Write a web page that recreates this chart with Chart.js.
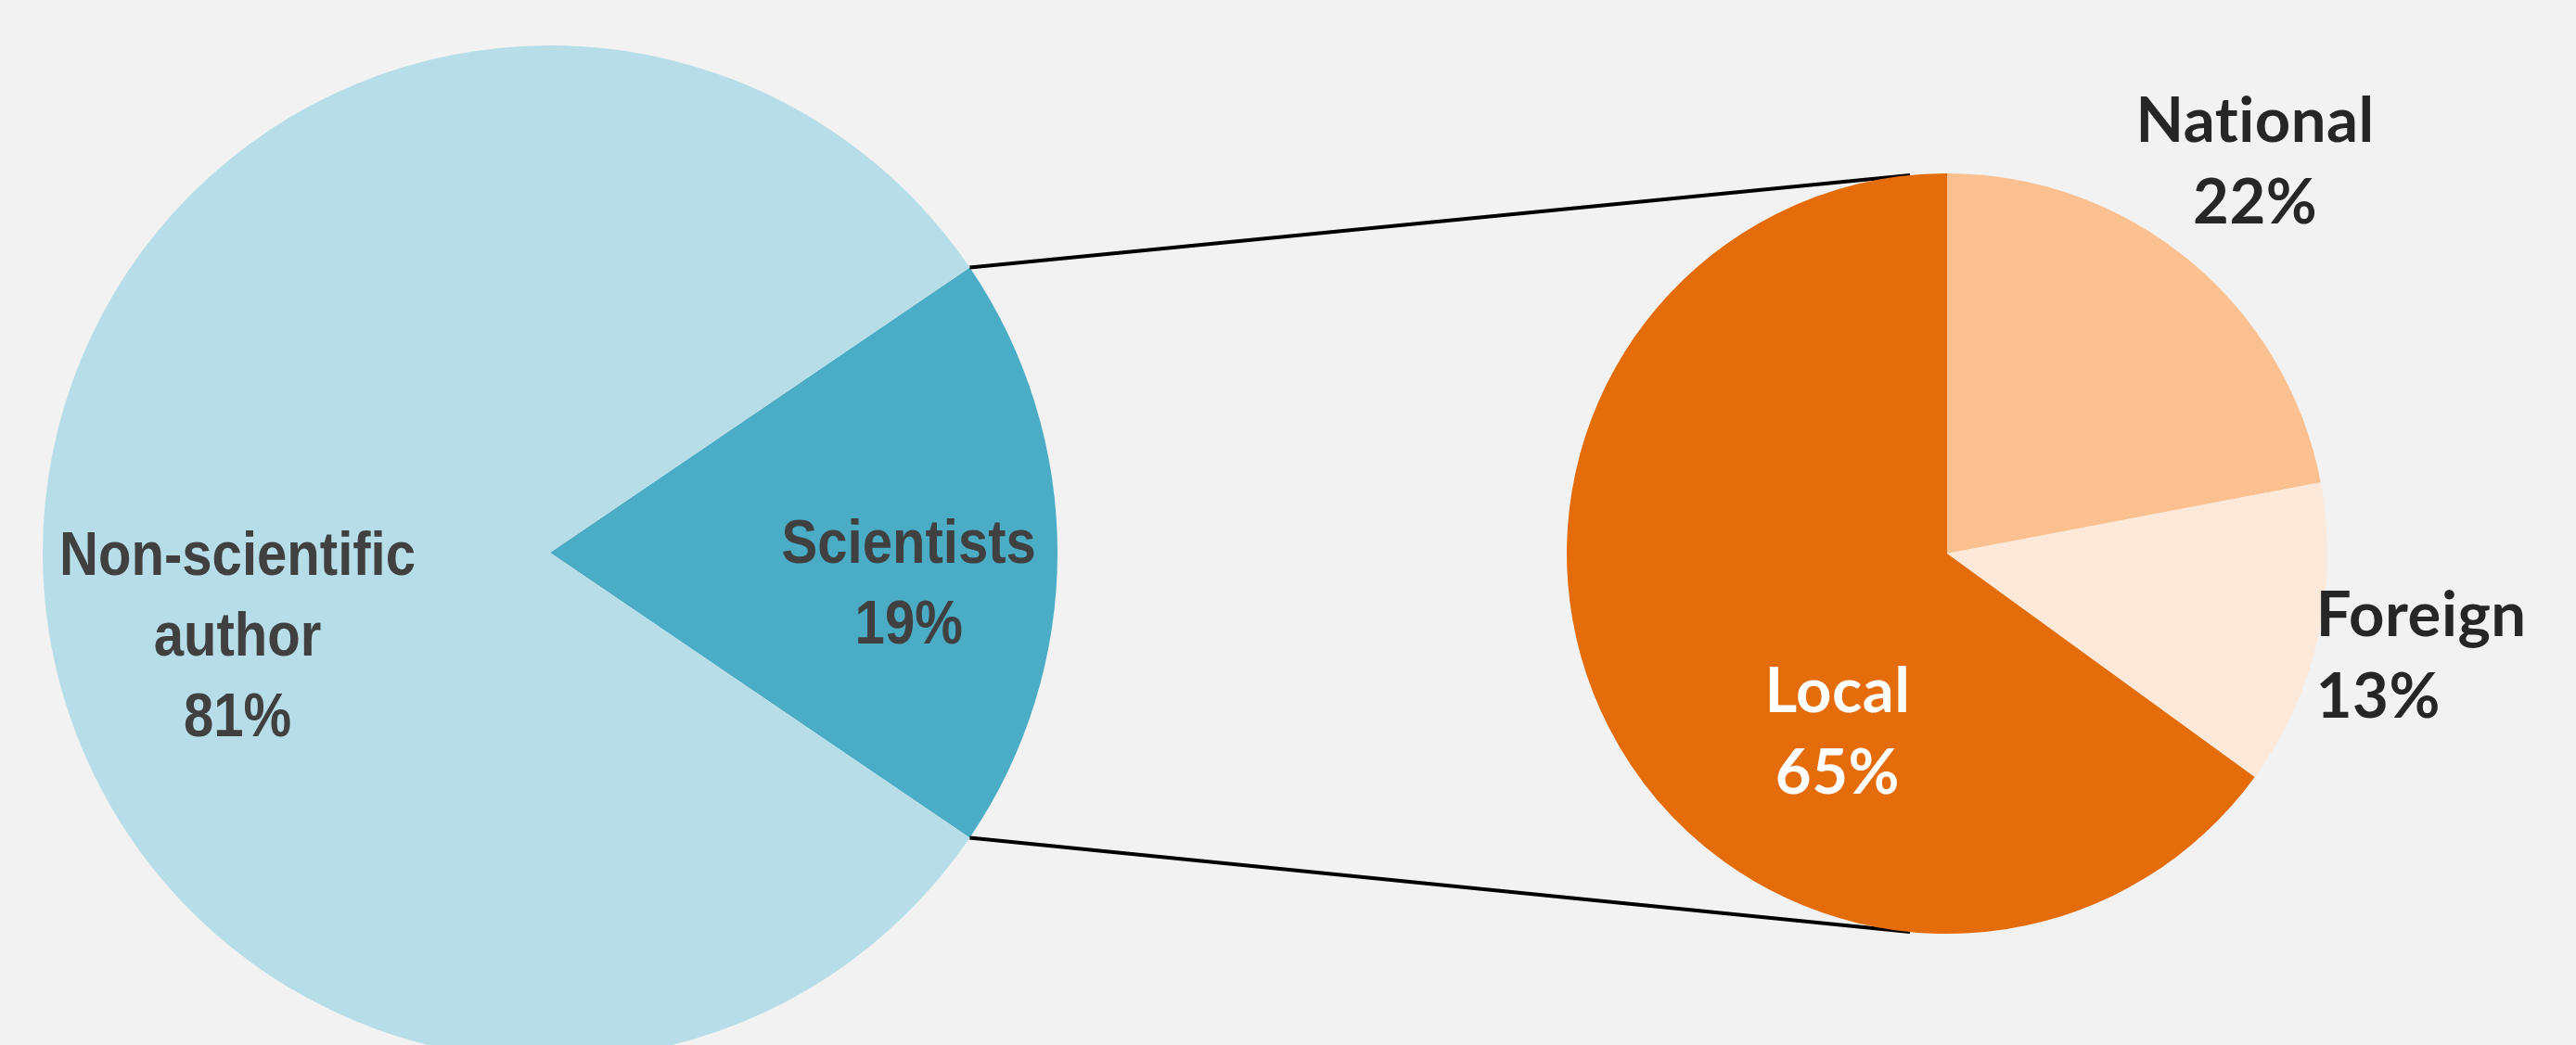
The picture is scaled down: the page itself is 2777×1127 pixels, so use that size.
<!DOCTYPE html>
<html>
<head>
<meta charset="utf-8">
<script src="https://cdn.jsdelivr.net/npm/chart.js@4"></script>
<style>
  html, body { margin: 0; padding: 0; background: #f2f2f2; width: 2777px; height: 1127px; overflow: hidden; }
  #wrap { position: relative; width: 2777px; height: 1127px; overflow: hidden; }
  canvas { position: absolute; left: 0; top: 0; }
</style>
</head>
<body>
<div id="wrap">
  <canvas id="left" width="2777" height="1200"></canvas>
  <canvas id="right" width="2777" height="1127"></canvas>
</div>
<script>
// ---- Data ----
const mainLabels = ["Scientists", "Non-scientific author"];
const mainValues = [19, 81];
const mainColors = ["#4bacc6", "#b7dee8"];

const subLabels = ["National", "Foreign", "Local"];
const subValues = [22, 13, 65];
const subColors = ["#fac090", "#fde9d9", "#e46c0a"];

Chart.defaults.animation = false;
Chart.defaults.devicePixelRatio = 1;

function pct(v, arr) { return Math.round(v / arr.reduce((a, b) => a + b, 0) * 100) + "%"; }

// Label plugin: draws multi-line labels at offsets relative to pie center (in radius units)
const labelPlugin = {
  id: 'pieLabels',
  afterDatasetsDraw(chart, args, opts) {
    const arc = chart.getDatasetMeta(0).data[0];
    const cx = arc.x, cy = arc.y, R = arc.outerRadius;
    const ctx = chart.ctx;
    const labels = chart.data.labels, vals = chart.data.datasets[0].data;
    const sx = opts.scaleX || 1;
    opts.items.forEach(it => {
      const i = it.index;
      const lines = it.lines ? it.lines.slice() : [labels[i]];
      lines.push(pct(vals[i], vals));
      ctx.save();
      ctx.font = opts.font;
      if (opts.letterSpacing) ctx.letterSpacing = opts.letterSpacing;
      ctx.fillStyle = it.color || opts.color;
      ctx.textAlign = it.align || 'center';
      ctx.textBaseline = 'middle';
      const x = cx + it.dx * R;
      const y0 = cy + it.dy * R - (lines.length - 1) * opts.lineHeight / 2;
      ctx.translate(x, 0);
      ctx.scale(sx, 1);
      lines.forEach((ln, k) => ctx.fillText(ln, 0, y0 + k * opts.lineHeight));
      ctx.restore();
    });
  }
};

const rightChart = new Chart(document.getElementById('right'), {
  type: 'pie',
  data: { labels: subLabels, datasets: [{ data: subValues, backgroundColor: subColors, borderWidth: 0 }] },
  options: {
    responsive: false,
    rotation: 0,
    layout: { padding: { left: 1689, right: 268, top: 187, bottom: 120 } },
    plugins: {
      legend: { display: false }, tooltip: { enabled: false },
      pieLabels: {
        font: 'bold 67px Lato, "Open Sans", sans-serif',
        letterSpacing: '0.5px',
        color: '#262626',
        lineHeight: 88,
        items: [
          { index: 0, dx: 0.81, dy: -1.028 },
          { index: 1, dx: 0.97, dy: 0.272, align: 'left' },
          { index: 2, dx: -0.288, dy: 0.472, color: '#ffffff' }
        ]
      }
    }
  },
  plugins: [labelPlugin]
});

const connectorPlugin = {
  id: 'connectors',
  afterDatasetsDraw(chart) {
    const meta = chart.getDatasetMeta(0);
    const sci = meta.data[0];
    const r = rightChart.getDatasetMeta(0).data[0];
    const ctx = chart.ctx;
    const p1 = [sci.x + sci.outerRadius * Math.cos(sci.startAngle), sci.y + sci.outerRadius * Math.sin(sci.startAngle)];
    const p2 = [sci.x + sci.outerRadius * Math.cos(sci.endAngle), sci.y + sci.outerRadius * Math.sin(sci.endAngle)];
    const a = 5.6 * Math.PI / 180;
    const q1 = [r.x - r.outerRadius * Math.sin(a), r.y - r.outerRadius * Math.cos(a)];
    const q2 = [r.x - r.outerRadius * Math.sin(a), r.y + r.outerRadius * Math.cos(a)];
    ctx.save();
    ctx.strokeStyle = '#000000';
    ctx.lineWidth = 4;
    ctx.beginPath();
    ctx.moveTo(p1[0], p1[1]); ctx.lineTo(q1[0], q1[1]);
    ctx.moveTo(p2[0], p2[1]); ctx.lineTo(q2[0], q2[1]);
    ctx.stroke();
    ctx.restore();
  }
};

const sciAngle = mainValues[0] / mainValues.reduce((a, b) => a + b, 0) * 360;
new Chart(document.getElementById('left'), {
  type: 'pie',
  data: { labels: mainLabels, datasets: [{ data: mainValues, backgroundColor: mainColors, borderWidth: 0 }] },
  options: {
    responsive: false,
    rotation: 90 - sciAngle / 2,
    layout: { padding: { left: 46, right: 1637, top: 49, bottom: 57 } },
    plugins: {
      legend: { display: false }, tooltip: { enabled: false },
      pieLabels: {
        font: 'bold 66px "Liberation Sans Narrow", "Liberation Sans", Arial, sans-serif',
        color: '#404040',
        scaleX: 0.88,
        lineHeight: 87,
        items: [
          { index: 0, dx: 0.707, dy: 0.066 },
          { index: 1, lines: ["Non-scientific", "author"], dx: -0.616, dy: 0.17 }
        ]
      }
    }
  },
  plugins: [connectorPlugin, labelPlugin]
});
</script>
</body>
</html>
